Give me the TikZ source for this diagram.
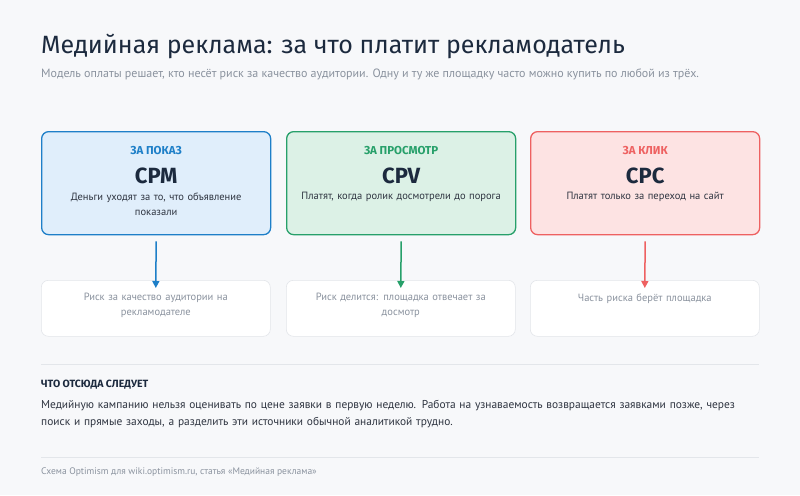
\documentclass[tikz,border=0pt]{standalone}
\usepackage{fontspec}
\setmainfont{PT Sans}
\newfontfamily\titlefont{Fira Sans}
\usetikzlibrary{arrows.meta}
\definecolor{bg}{HTML}{F7F8FA}
\definecolor{ink}{HTML}{1C2A3E}
\definecolor{grey}{HTML}{8A929E}
\definecolor{txt}{HTML}{2E3440}
\definecolor{bfill}{HTML}{E0EEFB}\definecolor{bline}{HTML}{1E7FC8}
\definecolor{gfill}{HTML}{DCF1E6}\definecolor{gline}{HTML}{27A06A}
\definecolor{rfill}{HTML}{FDE3E3}\definecolor{rline}{HTML}{EE6161}
\definecolor{sep}{HTML}{E3E6EA}
\tikzset{
 top/.style={draw=#1, line width=1.3pt, rounded corners=7pt, minimum width=229pt, minimum height=103pt, anchor=north west},
 low/.style={draw=sep, fill=white, line width=0.6pt, rounded corners=7pt, minimum width=229pt, minimum height=56pt, anchor=north west},
 cat/.style={font=\titlefont\bfseries\fontsize{11.5}{14}\selectfont, text=#1},
 code/.style={font=\titlefont\bfseries\fontsize{22}{26}\selectfont, text=ink},
 desc/.style={font=\fontsize{10.5}{15}\selectfont, text=txt, align=center, text width=220pt},
 risk/.style={font=\fontsize{10.5}{15}\selectfont, text=grey, align=center, text width=220pt},
 arr/.style={draw=#1, line width=1.5pt, -{Triangle[length=7pt,width=7pt]}},
}
\begin{document}
\begin{tikzpicture}[x=1pt,y=-1pt]
\fill[bg] (0,0) rectangle (800,495);
\node[anchor=west, font=\titlefont\fontsize{25}{29}\selectfont, text=ink, inner sep=0pt] (title) at (41,46) {Медийная реклама: за что платит рекламодатель};
\node[anchor=west, font=\fontsize{12}{14}\selectfont, text=grey, inner sep=0pt] (sub) at (41,74) {Модель оплаты решает, кто несёт риск за качество аудитории. Одну и ту же площадку часто можно купить по любой из трёх.};

\node[top=bline, fill=bfill] (b1) at (41,131) {};
\node[top=gline, fill=gfill] (b2) at (286,131) {};
\node[top=rline, fill=rfill] (b3) at (530,131) {};
\foreach \b/\c/\k/\n/\d in {b1/bline/ЗА ПОКАЗ/CPM/{Деньги уходят за то, что объявление\\показали},b2/gline/ЗА ПРОСМОТР/CPV/{Платят, когда ролик досмотрели до порога},b3/rline/ЗА КЛИК/CPC/{Платят только за переход на сайт}}{
 \node[cat=\c] (\b k) at ([yshift=-20pt]\b.north) {\k};
 \node[code] (\b n) at ([yshift=-45pt]\b.north) {\n};
 \node[desc, anchor=north] (\b d) at ([yshift=-58pt]\b.north) {\d};
}
\node[low] (l1) at (41,280) {};
\node[low] (l2) at (286,280) {};
\node[low] (l3) at (530,280) {};
\node[risk, anchor=north] (l1t) at ([yshift=-10pt]l1.north) {Риск за качество аудитории на\\рекламодателе};
\node[risk, anchor=north] (l2t) at ([yshift=-10pt]l2.north) {Риск делится: площадка отвечает за\\досмотр};
\node[risk, anchor=north] (l3t) at ([yshift=-10pt]l3.north) {Часть риска берёт площадка};
\draw[arr=bline] ([yshift=-6pt]b1.south) -- ([yshift=-8pt]l1.north);
\draw[arr=gline] ([yshift=-6pt]b2.south) -- ([yshift=-8pt]l2.north);
\draw[arr=rline] ([yshift=-6pt]b3.south) -- ([yshift=-8pt]l3.north);

\coordinate (s1) at (41,364); \coordinate (s2) at (759,364);
\draw[sep, line width=0.8pt] (s1) -- (s2);
\node[anchor=west, font=\titlefont\bfseries\fontsize{10.5}{12}\selectfont, text=ink, inner sep=0pt] (h) at (41,385) {ЧТО ОТСЮДА СЛЕДУЕТ};
\node[anchor=north west, font=\fontsize{11.4}{17}\selectfont, text=txt, align=left, text width=730pt, inner sep=0pt] (p) at (41,400) {Медийную кампанию нельзя оценивать по цене заявки в первую неделю. Работа на узнаваемость возвращается заявками позже, через\\поиск и прямые заходы, а разделить эти источники обычной аналитикой трудно.};
\coordinate (f1) at (41,457); \coordinate (f2) at (759,457);
\draw[sep, line width=0.8pt] (f1) -- (f2);
\node[anchor=west, font=\fontsize{9.5}{11}\selectfont, text=grey, inner sep=0pt] (foot) at (41,472) {Схема Optimism для wiki.optimism.ru, статья «Медийная реклама»};
\end{tikzpicture}
\end{document}
